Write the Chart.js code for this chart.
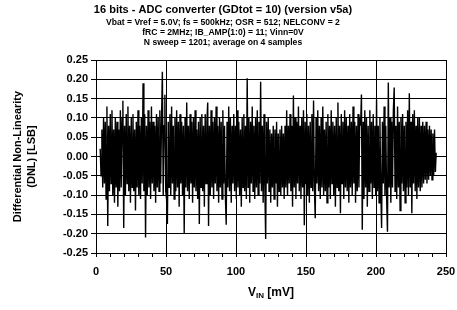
<!DOCTYPE html>
<html>
<head>
<meta charset="utf-8">
<script src="https://cdn.jsdelivr.net/npm/chart.js@4"></script>
<style>
  html, body { margin: 0; padding: 0; background: #ffffff; }
  #wrap { width: 457px; height: 310px; }
</style>
</head>
<body>
<div id="wrap"><canvas id="myChart" width="457" height="310"></canvas></div>
<script>
const ctx = document.getElementById('myChart')

// input sweep: 3 mV .. 243 mV, read every 0.6 mV off the plot
const vinStart = 3
const vinStep = 0.6
const dnl = [
  0.02, -0.05, 0.07, -0.08, 0.10, -0.07, 0.09, -0.11, 0.13, -0.18, 0.08, -0.09, 0.11, -0.07, 0.12, -0.10, 0.07, -0.12, 0.10, -0.08,
  0.09, -0.13, 0.07, -0.09, 0.12, -0.08, 0.10, 0.145, -0.185, 0.08, -0.10, 0.11, -0.07, 0.13, -0.09, 0.08, -0.12, 0.10, -0.08, 0.11,
  -0.09, 0.07, -0.14, 0.09, -0.08, 0.12, -0.10, 0.08, -0.11, 0.10, -0.07, 0.19, -0.09, 0.11, -0.21, 0.08, -0.10, 0.12, -0.08, 0.09,
  -0.11, 0.13, -0.07, 0.09, -0.09, 0.08, -0.12, 0.11, -0.08, 0.10, -0.09, 0.12, -0.07, 0.09, 0.22, -0.10, 0.08, 0.16, -0.09, -0.11,
  -0.175, 0.09, -0.08, 0.11, -0.10, 0.13, -0.07, 0.08, -0.11, 0.10, -0.09, 0.12, -0.08, 0.09, -0.13, 0.11, -0.07, 0.09, -0.10, 0.08,
  -0.20, 0.10, -0.08, 0.14, -0.09, 0.08, -0.11, 0.11, -0.07, 0.09, -0.12, 0.10, -0.08, 0.12, -0.09, 0.07, -0.11, 0.09, -0.175, 0.10,
  -0.08, 0.11, -0.09, 0.08, -0.13, 0.11, -0.07, 0.09, 0.14, -0.18, 0.08, -0.10, 0.12, -0.08, 0.09, -0.11, 0.10, -0.07, 0.13, -0.09,
  0.08, -0.12, 0.10, -0.08, 0.09, -0.11, 0.12, -0.07, 0.08, -0.10, -0.177, 0.09, -0.08, 0.13, -0.09, 0.10, -0.12, 0.08, -0.07, 0.11,
  -0.09, 0.08, -0.11, 0.12, -0.08, 0.09, -0.10, 0.07, -0.13, 0.10, -0.08, 0.11, -0.09, 0.08, -0.11, 0.203, -0.08, 0.10, -0.12, 0.09,
  -0.07, 0.13, -0.09, 0.08, -0.11, 0.10, -0.08, 0.12, -0.10, 0.09, -0.07, 0.194, -0.09, 0.08, -0.12, 0.11, -0.08, -0.214, 0.09, -0.07,
  0.10, -0.09, 0.07, -0.12, 0.06, -0.08, 0.08, -0.11, 0.07, -0.07, 0.09, -0.13, 0.06, -0.09, 0.07, -0.10, 0.08, -0.08, 0.06, -0.11,
  0.08, -0.08, 0.12, -0.10, 0.08, -0.07, 0.11, -0.09, 0.08, -0.13, 0.158, -0.08, 0.10, -0.11, 0.09, -0.07, 0.13, -0.09, 0.08, -0.11,
  0.10, -0.08, 0.12, -0.178, 0.09, -0.07, 0.11, -0.10, 0.08, -0.12, 0.09, -0.08, 0.11, -0.09, 0.145, -0.08, -0.16, 0.10, -0.07, 0.12,
  -0.09, 0.08, -0.11, 0.10, -0.08, 0.13, -0.10, 0.07, -0.09, 0.09, -0.12, 0.11, -0.08, 0.08, -0.11, 0.12, -0.07, 0.09, -0.10, 0.08,
  -0.13, 0.10, -0.08, 0.14, -0.09, 0.08, -0.147, 0.11, -0.07, 0.09, -0.11, 0.12, -0.08, 0.10, -0.09, 0.08, -0.12, 0.11, -0.08, 0.09,
  -0.10, 0.13, -0.07, 0.09, -0.12, 0.08, -0.09, 0.11, -0.08, 0.10, 0.08, 0.161, -0.19, 0.09, -0.11, 0.12, -0.08, 0.10, -0.13, 0.08,
  -0.09, 0.12, -0.07, 0.09, -0.11, 0.11, -0.08, 0.08, -0.10, 0.147, -0.09, 0.08, -0.12, 0.10, -0.08, -0.185, 0.09, -0.07, 0.13, -0.10,
  0.08, -0.11, -0.195, 0.192, -0.08, 0.10, -0.12, 0.09, -0.08, 0.12, 0.179, -0.09, 0.08, -0.11, 0.13, -0.08, 0.09, -0.14, 0.10, -0.07,
  0.11, -0.09, 0.08, -0.12, 0.09, -0.08, 0.12, -0.10, 0.164, -0.08, 0.09, -0.147, 0.11, -0.07, 0.12, -0.09, 0.08, -0.11, 0.10, -0.08,
  0.10, -0.09, 0.08, -0.08, 0.09, -0.07, 0.08, -0.06, 0.09, -0.07, 0.07, -0.06, 0.08, -0.05, 0.07, -0.06, 0.06, -0.05, 0.07, -0.04,
  0.01
]
const points = dnl.map((v, i) => ({x: vinStart + i * vinStep, y: v}))

const titleText = '16 bits - ADC converter (GDtot = 10) (version v5a)'
const subtitleLines = [
  'Vbat = Vref = 5.0V; fs = 500kHz; OSR = 512; NELCONV = 2',
  'fRC = 2MHz; IB_AMP(1:0) = 11; Vinn=0V',
  'N sweep = 1201; average on 4 samples'
]
const yTitle = ['Differential Non-Linearity', '(DNL) [LSB]']
const FONT = "'Liberation Sans', Arial, sans-serif"

// frame round the plot area and the x title with its subscript
const extras = {
  id: 'extras',
  afterDraw(chart) {
    const c = chart.ctx
    const a = chart.chartArea
    c.save()
    c.strokeStyle = '#000'
    c.lineWidth = 1
    c.strokeRect(Math.round(a.left) + 0.5, Math.round(a.top) + 0.5, Math.round(a.right - a.left), Math.round(a.bottom - a.top))
    c.fillStyle = '#000'
    c.textBaseline = 'middle'
    const cx = (a.left + a.right) / 2
    const y = 293
    c.font = 'bold 12px ' + FONT
    const wV = c.measureText('V').width
    const wRest = c.measureText(' [mV]').width
    c.font = 'bold 8px ' + FONT
    const wSub = c.measureText('IN').width
    let x = cx - (wV + wSub + wRest) / 2
    c.textAlign = 'left'
    c.font = 'bold 12px ' + FONT
    c.fillText('V', x, y)
    x += wV
    c.font = 'bold 8px ' + FONT
    c.fillText('IN', x, y + 3)
    x += wSub
    c.font = 'bold 12px ' + FONT
    c.fillText(' [mV]', x, y)
    c.restore()
  }
}

new Chart(ctx, {
  type: 'line',
  data: {
    datasets: [{
      data: points,
      borderColor: '#000000',
      borderWidth: 1.4,
      pointRadius: 0,
      tension: 0,
      fill: false
    }]
  },
  options: {
    responsive: false,
    animation: false,
    events: [],
    layout: { padding: { right: 11, top: 0, left: 0, bottom: 0 } },
    plugins: {
      legend: { display: false },
      tooltip: { enabled: false },
      title: {
        display: true,
        text: titleText,
        color: '#000',
        font: { family: FONT, size: 11, weight: 'bold' },
        padding: { top: 3, bottom: 1 }
      },
      subtitle: {
        display: true,
        text: subtitleLines,
        color: '#000',
        font: { family: FONT, size: 8.6, weight: 'bold', lineHeight: 1.16 },
        padding: { top: 0, bottom: 13 }
      }
    },
    scales: {
      x: {
        type: 'linear',
        min: 0,
        max: 250,
        afterFit(scale) { scale.height = 57; scale.paddingRight = 0 },
        border: { display: true, color: '#000', width: 1 },
        grid: {
          color: c => (c.tick && c.tick.value % 50 === 0) ? '#000' : 'rgba(0,0,0,0)',
          tickColor: '#000',
          tickLength: 4,
          drawTicks: true
        },
        ticks: {
          stepSize: 10,
          autoSkip: false,
          maxRotation: 0,
          color: '#000',
          padding: 8,
          font: { family: FONT, size: 11, weight: 'bold' },
          callback: v => (v % 50 === 0 ? String(v) : '')
        }
      },
      y: {
        min: -0.25,
        max: 0.25,
        afterFit(scale) { scale.width = 96 },
        border: { display: true, color: '#000', width: 1 },
        grid: { color: '#000', tickColor: '#000', tickLength: 5 },
        ticks: {
          stepSize: 0.05,
          color: '#000',
          padding: 3,
          font: { family: FONT, size: 11, weight: 'bold' },
          callback: v => v.toFixed(2)
        },
        title: {
          display: true,
          text: yTitle,
          color: '#000',
          font: { family: FONT, size: 11, weight: 'bold', lineHeight: 1.3 },
          padding: { top: 11, bottom: 0 }
        }
      }
    }
  },
  plugins: [extras]
})
</script>
</body>
</html>
